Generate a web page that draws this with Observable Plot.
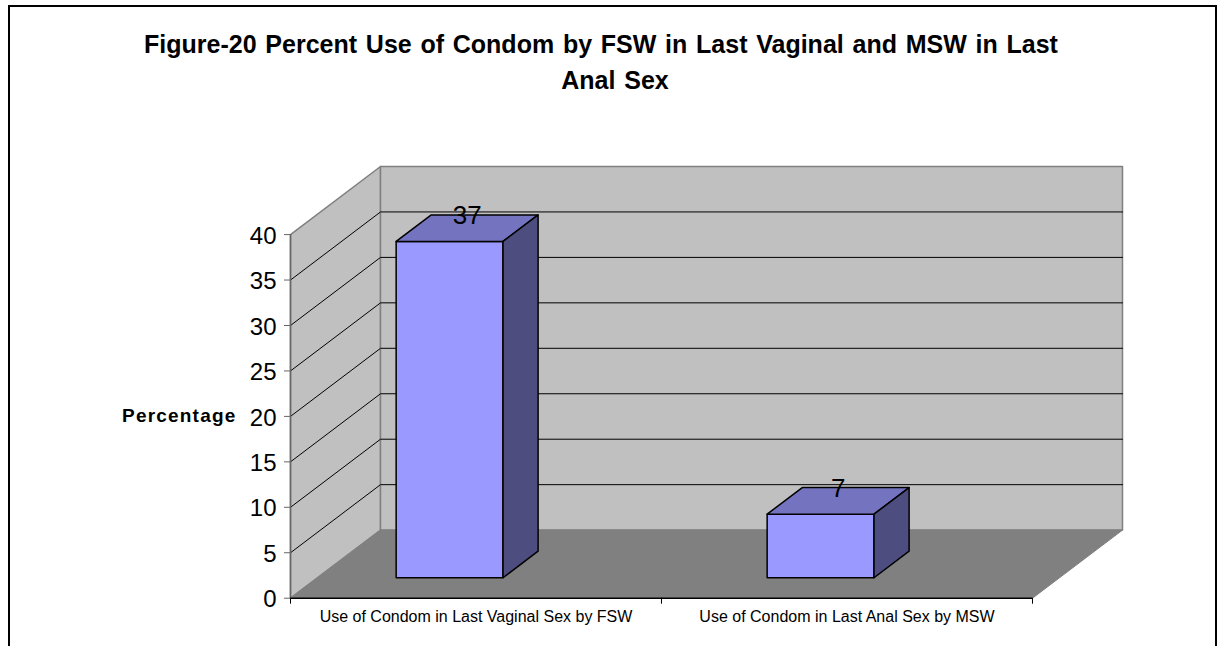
<!DOCTYPE html>
<html>
<head>
<meta charset="utf-8">
<script src="https://cdn.jsdelivr.net/npm/d3@7"></script>
<script src="https://cdn.jsdelivr.net/npm/@observablehq/plot@0.6"></script>
<style>
  html, body { margin: 0; padding: 0; background: #fff; overflow: hidden; }
  #chart { position: relative; width: 1219px; height: 646px; overflow: hidden; font-family: "Liberation Sans", Arial, sans-serif; }
  #frame { position: absolute; left: 8px; top: 5px; width: 1209px; height: 700px; border: 2px solid #000; box-sizing: border-box; }
  #title { position: absolute; left: 100px; width: 1002px; top: 26px; text-align: center; font-weight: bold; font-size: 25px; line-height: 36px; word-spacing: 1.8px; color: #000; }
  #title span { position: relative; left: 14px; }
  svg { position: absolute; left: 0; top: 0; }
  .axis-title text { letter-spacing: 1.2px; }
</style>
</head>
<body>
<div id="chart">
  <div id="frame"></div>
  <div id="title">Figure-20 Percent Use of Condom by FSW in Last Vaginal and MSW in Last<br><span>Anal Sex</span></div>
</div>
<script>
const categories = ["Use of Condom in Last Vaginal Sex by FSW", "Use of Condom in Last Anal Sex by MSW"];
const percentages = [37, 7];
const yTicks = [0, 5, 10, 15, 20, 25, 30, 35, 40];
const xTicks = [0, 1, 2];

// Oblique projection: depth z in 0..1 shifts a point right and up in data units.
const depthX = 0.2426;
const depthY = 7.49;
const project = (c, v, z) => ({x: c + z * depthX, y: v + z * depthY});

// Bar placement within a category slot, in category units and depth units.
const barOffset = 0.212, barWidth = 0.288, barFront = 0.3, barBack = 0.69;

const face = (corners, options) =>
  Plot.line(corners.map(([c, v, z]) => project(c, v, z)), {x: "x", y: "y", curve: "linear-closed", ...options});

const walls = [
  face([[0, 0, 0], [0, 40, 0], [0, 40, 1], [0, 0, 1]], {fill: "#c0c0c0", stroke: "#808080", strokeWidth: 1.5}),
  face([[0, 0, 1], [0, 40, 1], [2, 40, 1], [2, 0, 1]], {fill: "#c0c0c0", stroke: "#808080", strokeWidth: 1.5}),
  face([[0, 0, 0], [0, 0, 1], [2, 0, 1], [2, 0, 0]], {fill: "#808080", stroke: "#808080", strokeWidth: 1})
];

const gridRows = yTicks.filter(v => v > 0 && v < 40).flatMap(v =>
  [[0, v, 0], [0, v, 1], [2, v, 1]].map(([c, w, z]) => ({...project(c, w, z), level: v})));
const grid = Plot.line(gridRows, {x: "x", y: "y", z: "level", stroke: "#000", strokeWidth: 1});

const barStroke = {stroke: "#000", strokeWidth: 1.5, strokeLinejoin: "round"};
const bars = percentages.flatMap((value, i) => {
  const l = i + barOffset, r = l + barWidth;
  return [
    face([[l, 0, barFront], [r, 0, barFront], [r, value, barFront], [l, value, barFront]], {fill: "#9999ff", ...barStroke}),
    face([[l, value, barFront], [r, value, barFront], [r, value, barBack], [l, value, barBack]], {fill: "#7373bf", ...barStroke}),
    face([[r, 0, barFront], [r, 0, barBack], [r, value, barBack], [r, value, barFront]], {fill: "#4d4d80", ...barStroke})
  ];
});

const valueLabels = Plot.text(percentages.map((value, i) => ({
  ...project(i + barOffset + barWidth / 2, value, (barFront + barBack) / 2), value
})), {x: "x", y: "y", text: d => String(d.value), dy: -12.5, fontSize: 26, fill: "#000"});

const chart = Plot.plot({
  width: 1219,
  height: 646,
  marginLeft: 290,
  marginRight: 97,
  marginTop: 166,
  marginBottom: 48.3,
  style: {background: "transparent", fontFamily: "'Liberation Sans', Arial, sans-serif", color: "#000"},
  x: {domain: [0, 2 + depthX], axis: null},
  y: {domain: [0, 40 + depthY], axis: null},
  marks: [
    ...walls,
    grid,
    ...bars,
    valueLabels,
    // Front floor edge and left axis line
    Plot.ruleY([0], {x1: 0, x2: 2, stroke: "#000", strokeWidth: 1.5}),
    Plot.ruleX([0], {y1: 0, y2: 40, stroke: "#666", strokeWidth: 1.5}),
    // Tick marks and tick text are separate so the text can sit slightly below its tick
    Plot.axisY({ticks: yTicks, tickSize: 6, tickFormat: () => "", label: null, stroke: "#666"}),
    Plot.axisY({ticks: yTicks, tickSize: 0, tickPadding: 14, dy: 1.5, fontSize: 24, label: null, fill: "#000"}),
    Plot.axisX({ticks: xTicks, tickSize: 6, tickFormat: () => "", label: null, stroke: "#000"}),
    Plot.text(categories, {x: (d, i) => i + 0.5, y: () => 0, dy: 19, fontSize: 16, fill: "#000"}),
    Plot.text(["Percentage"], {x: () => 0, y: () => 20, dx: -54, textAnchor: "end", fontSize: 19, fontWeight: "bold", fill: "#000", className: "axis-title"})
  ]
});
document.getElementById("chart").appendChild(chart);
</script>
</body>
</html>
